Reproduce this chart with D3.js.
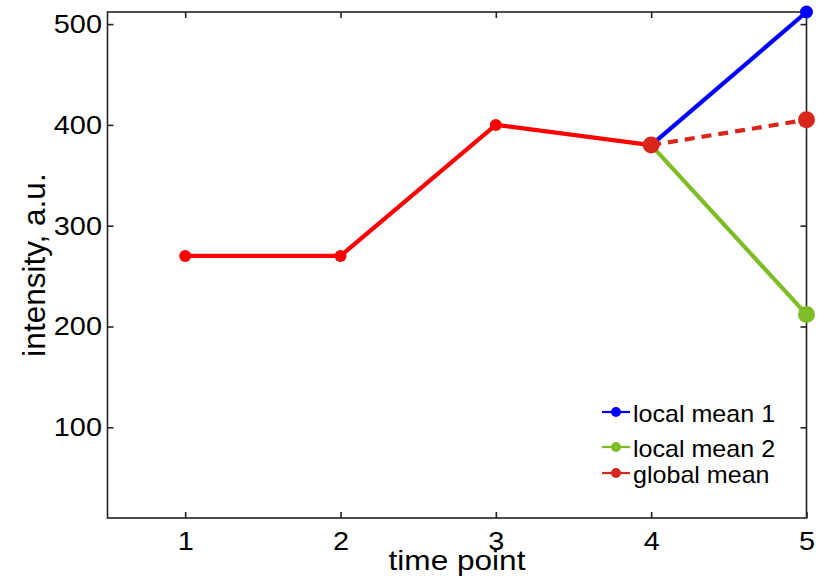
<!DOCTYPE html>
<html><head><meta charset="utf-8">
<script src="https://cdn.jsdelivr.net/npm/d3@7"></script>
<style>
html,body{margin:0;padding:0;background:#fff;}
text{font-family:Arial,"Liberation Sans",sans-serif;fill:#000;}
</style></head>
<body><svg id="c" width="823" height="583"></svg>
<script>
// data
const timePoints = [1, 2, 3, 4];
const history = [270, 270, 400, 380];
const localMean1 = [[4, 380], [5, 512]];
const localMean2 = [[4, 380], [5, 212]];
const globalMean = [[4, 380], [5, 405]];
const xTicks = [1, 2, 3, 4, 5];
const yTicks = [100, 200, 300, 400, 500];
const legendLabels = ["local mean 1", "local mean 2", "global mean"];

const svg = d3.select("#c");
const L = 107.5, R = 806.5, T = 12, B = 518;
const x = d3.scaleLinear().domain([0.5, 5]).range([L, R]);
const y = d3.scaleLinear().domain([10, 512]).range([B, T]);

const axisColor = "#222";
const tickLen = 6;

// box
svg.append("rect").attr("x", L).attr("y", T).attr("width", R - L).attr("height", B - T)
  .attr("fill", "none").attr("stroke", axisColor).attr("stroke-width", 1.6);

// axes with inward ticks
const gx = svg.append("g").attr("transform", `translate(0,${B})`)
  .call(d3.axisBottom(x).tickValues(xTicks).tickSizeInner(-tickLen).tickSizeOuter(0).tickPadding(14).tickFormat(d3.format("d")));
const gxt = svg.append("g").attr("transform", `translate(0,${T})`)
  .call(d3.axisTop(x).tickValues(xTicks).tickSizeInner(-tickLen).tickSizeOuter(0).tickFormat(""));
const gy = svg.append("g").attr("transform", `translate(${L},0)`)
  .call(d3.axisLeft(y).tickValues(yTicks).tickSizeInner(-tickLen).tickSizeOuter(0).tickPadding(5).tickFormat(d3.format("d")));
const gyr = svg.append("g").attr("transform", `translate(${R},0)`)
  .call(d3.axisRight(y).tickValues(yTicks).tickSizeInner(-tickLen).tickSizeOuter(0).tickFormat(""));
[gx, gxt, gy, gyr].forEach(g => {
  g.select(".domain").remove();
  g.selectAll(".tick line").attr("stroke", axisColor).attr("stroke-width", 1.6);
  g.selectAll("text").attr("font-size", 26).attr("fill", "#000")
    .attr("font-family", "Arial, 'Liberation Sans', sans-serif")
    .attr("transform", "scale(1.11,1)");
});

// axis labels
svg.append("text").attr("transform", `translate(${(L + R) / 2},570) scale(1.17,1)`)
  .attr("text-anchor", "middle").attr("font-size", 27).text("time point");
svg.append("text").attr("transform", `translate(45,${(T + B) / 2}) rotate(-90)`)
  .attr("text-anchor", "middle").attr("font-size", 31.5).text("intensity, a.u.");

const red = "#ff0000", darkRed = "#d9261c", blue = "#0000ff", green = "#7fbd26";
const line = d3.line().x(d => x(d[0])).y(d => y(d[1]));

// history
const hist = timePoints.map((t, i) => [t, history[i]]);
svg.append("path").datum(hist).attr("d", line).attr("fill", "none")
  .attr("stroke", red).attr("stroke-width", 4.2).attr("stroke-linejoin", "round");
svg.selectAll(".hp").data(hist.slice(0, 3)).enter().append("circle")
  .attr("cx", d => x(d[0])).attr("cy", d => y(d[1])).attr("r", 6).attr("fill", red);

// local mean 1
svg.append("path").datum(localMean1).attr("d", line).attr("fill", "none")
  .attr("stroke", blue).attr("stroke-width", 4.2);
svg.append("circle").attr("cx", x(localMean1[1][0])).attr("cy", y(localMean1[1][1])).attr("r", 6.5).attr("fill", blue);

// local mean 2
svg.append("path").datum(localMean2).attr("d", line).attr("fill", "none")
  .attr("stroke", green).attr("stroke-width", 4.2);
svg.append("circle").attr("cx", x(localMean2[1][0])).attr("cy", y(localMean2[1][1])).attr("r", 8.5).attr("fill", green);

// global mean
svg.append("path").datum(globalMean).attr("d", line).attr("fill", "none")
  .attr("stroke", darkRed).attr("stroke-width", 4.2).attr("stroke-dasharray", "10,7");
svg.selectAll(".gp").data(globalMean).enter().append("circle")
  .attr("cx", d => x(d[0])).attr("cy", d => y(d[1])).attr("r", 8.5).attr("fill", darkRed);

// legend
const legColors = [blue, green, darkRed];
const legY = [412, 447, 473];
legendLabels.forEach((lab, i) => {
  const g = svg.append("g");
  g.append("line").attr("x1", 602).attr("x2", 630).attr("y1", legY[i]).attr("y2", legY[i])
    .attr("stroke", legColors[i]).attr("stroke-width", 2.2);
  g.append("circle").attr("cx", 616).attr("cy", legY[i]).attr("r", 5).attr("fill", legColors[i]);
  g.append("text").attr("transform", `translate(633,${legY[i]}) scale(1.09,1)`).attr("dy", "0.42em")
    .attr("font-size", 23).text(lab);
});
</script></body></html>
